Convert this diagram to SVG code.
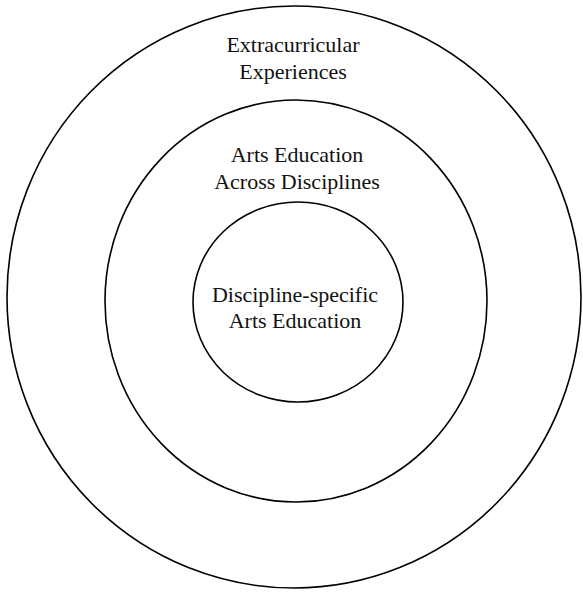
<svg xmlns="http://www.w3.org/2000/svg" width="583" height="592" viewBox="0 0 583 592">
<style>
.ring{fill:none;stroke:#000;stroke-width:1.6}
.lbl{font-family:"Liberation Serif","Times New Roman",serif;font-size:22px;fill:#111;text-anchor:middle}
</style>
<rect width="583" height="592" fill="#fff"/>
<g id="outer">
<ellipse class="ring" cx="294" cy="297" rx="287" ry="291"/>
<text class="lbl" x="293" y="52">Extracurricular</text>
<text class="lbl" x="293" y="79">Experiences</text>
</g>
<g id="middle">
<ellipse class="ring" cx="296" cy="301" rx="191" ry="201"/>
<text class="lbl" x="297" y="162">Arts Education</text>
<text class="lbl" x="297" y="189">Across Disciplines</text>
</g>
<g id="inner">
<ellipse class="ring" cx="298" cy="302" rx="105" ry="100"/>
<text class="lbl" x="295" y="302">Discipline-specific</text>
<text class="lbl" x="295" y="328">Arts Education</text>
</g>
<g id="connectors"/>
</svg>
